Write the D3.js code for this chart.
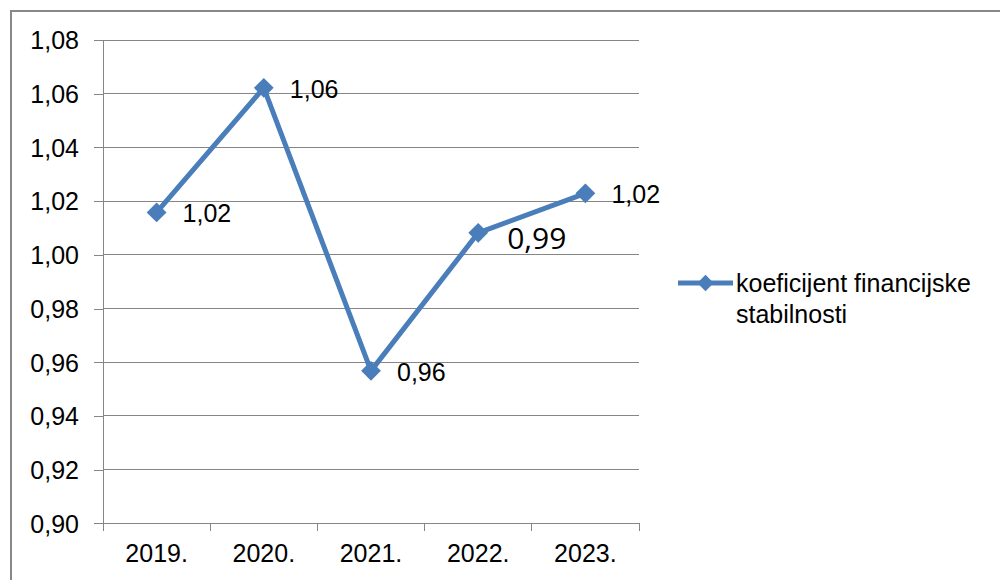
<!DOCTYPE html>
<html>
<meta charset="utf-8">
<head>
    <style>
        body { margin: 0; background: #fff; }
        text { font-family: "Liberation Sans", Arial, sans-serif; fill: #000; }
        .axis path, .axis line { stroke: #868686; shape-rendering: crispEdges; }
        .grid line { stroke: #868686; shape-rendering: crispEdges; }
    </style>
</head>
<body>
    <script src="https://d3js.org/d3.v7.min.js"></script>
    <script>
        // data
        const years = ["2019.", "2020.", "2021.", "2022.", "2023."];
        const values = [1.0158, 1.0622, 0.9568, 1.0082, 1.0229];
        const labels = ["1,02", "1,06", "0,96", "0,99", "1,02"];
        const yTicks = [0.90, 0.92, 0.94, 0.96, 0.98, 1.00, 1.02, 1.04, 1.06, 1.08];
        const seriesName = ["koeficijent financijske", "stabilnosti"];

        const blue = "#4a7ebb";
        var margin = { top: 40, left: 103 },
            width = 536,
            height = 483.4;

        var svg = d3.select("body").append("svg")
            .attr("width", 1000)
            .attr("height", 580);

        // outer chart frame (only top and left visible)
        svg.append("rect")
            .attr("x", 11).attr("y", 11)
            .attr("width", 1010).attr("height", 600)
            .attr("fill", "#fff")
            .attr("stroke", "#888")
            .attr("stroke-width", 2);

        var g = svg.append("g")
            .attr("transform", "translate(" + margin.left + "," + margin.top + ")");

        var x = d3.scaleBand().domain(years).range([0, width]).padding(0);
        var y = d3.scaleLinear().domain([0.90, 1.08]).range([height, 0]);

        // gridlines
        g.append("g").attr("class", "grid")
            .selectAll("line")
            .data(yTicks)
            .join("line")
            .attr("x1", 0).attr("x2", width)
            .attr("y1", d => y(d)).attr("y2", d => y(d));

        // y axis
        var yAxis = g.append("g").attr("class", "axis")
            .call(d3.axisLeft(y).tickValues(yTicks).tickSize(9).tickPadding(15)
                .tickFormat(d => d3.format(".2f")(d).replace(".", ",")));
        yAxis.select(".domain").attr("d", "M0,0V" + height);
        yAxis.selectAll("text").style("font-size", "25px").attr("dy", "0.35em");

        // x axis
        var xAxis = g.append("g").attr("class", "axis")
            .attr("transform", "translate(0," + height + ")")
            .call(d3.axisBottom(x).tickSize(0).tickPadding(21));
        xAxis.select(".domain").attr("d", "M0,0H" + width);
        xAxis.selectAll("text").style("font-size", "25px");
        xAxis.selectAll(".bound")
            .data(years.map(d => x(d)).concat([width]))
            .join("line")
            .attr("class", "bound")
            .attr("x1", d => d).attr("x2", d => d)
            .attr("y1", 0).attr("y2", 8);

        // line
        var line = d3.line()
            .x((d, i) => x(years[i]) + x.bandwidth() / 2)
            .y(d => y(d));

        g.append("path")
            .datum(values)
            .attr("d", line)
            .attr("fill", "none")
            .attr("stroke", blue)
            .attr("stroke-width", 5)
            .attr("stroke-linejoin", "round");

        var diamond = d3.symbol().type(d3.symbolDiamond2).size(250);
        g.selectAll(".marker")
            .data(values)
            .join("path")
            .attr("class", "marker")
            .attr("d", diamond)
            .attr("fill", blue)
            .attr("transform", (d, i) => "translate(" + (x(years[i]) + x.bandwidth() / 2) + "," + y(d) + ")");

        // data labels (the 2022 one is in a different, larger font)
        g.selectAll(".dlabel")
            .data(values)
            .join("text")
            .attr("class", "dlabel")
            .attr("x", (d, i) => x(years[i]) + x.bandwidth() / 2 + (i === 3 ? 29 : 26))
            .attr("y", (d, i) => y(d) + (i === 3 ? 16 : 10))
            .style("font-size", (d, i) => i === 3 ? "30px" : "25px")
            .style("font-family", (d, i) => i === 3 ? "'Open Sans', sans-serif" : null)
            .text((d, i) => labels[i]);

        // legend
        var lg = svg.append("g").attr("transform", "translate(678,283)");
        lg.append("line")
            .attr("x1", 0).attr("x2", 55)
            .attr("stroke", blue).attr("stroke-width", 5);
        lg.append("path")
            .attr("d", d3.symbol().type(d3.symbolDiamond2).size(170))
            .attr("transform", "translate(27.5,0)")
            .attr("fill", blue);
        lg.selectAll(".ltext")
            .data(seriesName)
            .join("text")
            .attr("class", "ltext")
            .attr("x", 58)
            .attr("y", (d, i) => 9 + i * 30.5)
            .style("font-size", "25px")
            .text(d => d);
    </script>
</body>
</html>
